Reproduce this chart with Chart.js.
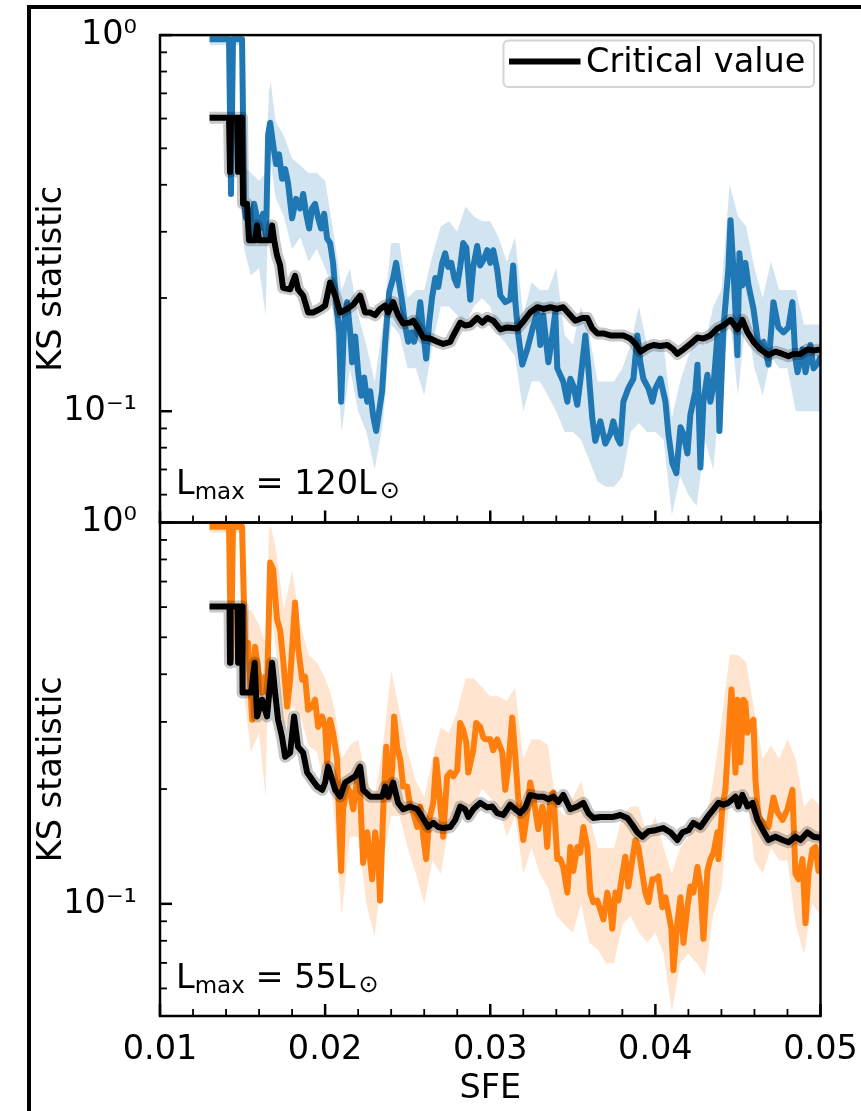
<!DOCTYPE html>
<html>
<head>
<meta charset="utf-8">
<script src="https://cdn.jsdelivr.net/npm/chart.js@4.4.0/dist/chart.umd.min.js"></script>
<style>
  html, body { margin: 0; padding: 0; background: #fff; }
  #page { position: relative; width: 861px; height: 1111px; overflow: hidden; background: #fff; }
  #frame { position: absolute; left: 27px; top: 5px; width: 900px; height: 1200px; border-left: 4px solid #000; border-top: 4px solid #000; }
  canvas { position: absolute; left: 0; top: 0; }
</style>
</head>
<body>
<div id="page">
  <div id="frame"></div>
  <canvas id="bottomChart" width="861" height="1111"></canvas>
  <canvas id="topChart" width="861" height="1111"></canvas>
</div>
<script>
// axis ticks
const xTicks = [0.01, 0.02, 0.03, 0.04, 0.05]
const xMinorTicks = [0.012, 0.014, 0.016, 0.018, 0.022, 0.024, 0.026, 0.028, 0.032, 0.034, 0.036, 0.038, 0.042, 0.044, 0.046, 0.048]
const yTicks = [0.1, 1]
const yTickLabels = ['10⁻¹', '10⁰']
const yMinorTicks = [0.06, 0.07, 0.08, 0.09, 0.2, 0.3, 0.4, 0.5, 0.6, 0.7, 0.8, 0.9]
const panelLmax = ['120', '55']

// top panel, Lmax = 120
const topSfe = [
  0.0130, 0.01418, 0.0143, 0.01442, 0.01497, 0.01509, 0.01521, 0.01533, 0.01552, 0.0157,
  0.01588, 0.01606, 0.01624, 0.01642, 0.01655, 0.01667, 0.01685, 0.01703, 0.01721, 0.01739,
  0.01758, 0.01776, 0.018, 0.01824, 0.01848, 0.01867, 0.01885, 0.01903, 0.01921, 0.01939,
  0.01958, 0.01976, 0.01994, 0.02012, 0.0203, 0.02048, 0.02067, 0.02085, 0.02097, 0.02115,
  0.02133, 0.02152, 0.02164, 0.02182, 0.022, 0.02218, 0.02236, 0.02255, 0.02273, 0.02291,
  0.02309, 0.02327, 0.02345, 0.02364, 0.02388, 0.02412, 0.0243, 0.02448, 0.02467, 0.02485,
  0.02503, 0.02521, 0.02539, 0.02558, 0.02576, 0.02594, 0.02612, 0.0263, 0.02648, 0.02667,
  0.02685, 0.02709, 0.02727, 0.02745, 0.02764, 0.02782, 0.028, 0.02818, 0.02836, 0.02855,
  0.02879, 0.02897, 0.02921, 0.02939, 0.02958, 0.02982, 0.03, 0.03018, 0.03042, 0.03061,
  0.03091, 0.03121, 0.03139, 0.03152, 0.0317, 0.03194, 0.03224, 0.03261, 0.03285, 0.03303,
  0.03321, 0.03352, 0.03376, 0.03394, 0.03406, 0.03442, 0.03467, 0.03485, 0.03503, 0.03527,
  0.03545, 0.03576, 0.03594, 0.03618, 0.03636, 0.03667, 0.03697, 0.03727, 0.03745, 0.0377,
  0.03788, 0.03806, 0.03836, 0.03867, 0.03891, 0.03909, 0.03927, 0.03958, 0.03982, 0.04,
  0.0403, 0.04061, 0.04079, 0.04103, 0.04127, 0.04152, 0.0417, 0.04194, 0.04212, 0.04242,
  0.04255, 0.04273, 0.04291, 0.04315, 0.04333, 0.04352, 0.04376, 0.04388, 0.04412, 0.04442,
  0.04455, 0.04473, 0.04497, 0.04509, 0.04527, 0.04545, 0.04564, 0.04594, 0.04624, 0.04655,
  0.04685, 0.04715, 0.04745, 0.04776, 0.04806, 0.0483, 0.04848, 0.04861, 0.04891, 0.04909,
  0.04939, 0.04958, 0.04988, 0.05
]
const topKs = [
  0.975, 0.975, 0.378, 0.975, 0.975, 0.356, 0.326, 0.346, 0.288, 0.356,
  0.326, 0.306, 0.335, 0.288, 0.544, 0.585, 0.512, 0.454, 0.482, 0.415,
  0.440, 0.402, 0.326, 0.367, 0.346, 0.378, 0.335, 0.306, 0.346, 0.356,
  0.326, 0.306, 0.335, 0.288, 0.280, 0.248, 0.195, 0.162, 0.106, 0.172,
  0.195, 0.162, 0.135, 0.158, 0.127, 0.110, 0.123, 0.106, 0.113, 0.097,
  0.0886, 0.100, 0.113, 0.153, 0.207, 0.226, 0.248, 0.220, 0.195, 0.168,
  0.153, 0.162, 0.153, 0.168, 0.195, 0.162, 0.138, 0.172, 0.201, 0.226,
  0.214, 0.248, 0.263, 0.242, 0.248, 0.226, 0.216, 0.242, 0.280, 0.272,
  0.198, 0.242, 0.275, 0.244, 0.252, 0.268, 0.248, 0.268, 0.238, 0.203,
  0.195, 0.198, 0.244, 0.195, 0.159, 0.133, 0.146, 0.169, 0.183, 0.150,
  0.180, 0.135, 0.159, 0.183, 0.130, 0.120, 0.106, 0.122, 0.117, 0.104,
  0.120, 0.159, 0.130, 0.096, 0.0834, 0.094, 0.0820, 0.0870, 0.094, 0.085,
  0.0820, 0.106, 0.115, 0.122, 0.159, 0.135, 0.122, 0.115, 0.106, 0.115,
  0.122, 0.106, 0.0870, 0.0728, 0.0684, 0.0906, 0.0870, 0.0772, 0.098, 0.113,
  0.133, 0.0709, 0.106, 0.125, 0.106, 0.117, 0.159, 0.0886, 0.166, 0.238,
  0.322, 0.238, 0.141, 0.263, 0.216, 0.248, 0.216, 0.187, 0.150, 0.153,
  0.133, 0.195, 0.167, 0.162, 0.167, 0.195, 0.138, 0.127, 0.146, 0.127,
  0.150, 0.130, 0.135, 0.140
]
const topCritSfe = [
  0.0130, 0.01418, 0.01424, 0.0143, 0.01467, 0.01473, 0.01479, 0.01497, 0.01503, 0.01527,
  0.01539, 0.01576, 0.01588, 0.016, 0.01667, 0.01679, 0.01691, 0.01709, 0.01727, 0.01745,
  0.01788, 0.01818, 0.01836, 0.01867, 0.01897, 0.01927, 0.0197, 0.02, 0.0203, 0.02061,
  0.02091, 0.02133, 0.0217, 0.02212, 0.02242, 0.02273, 0.02303, 0.02333, 0.02364, 0.02382,
  0.02412, 0.02442, 0.02473, 0.02515, 0.02533, 0.02564, 0.02594, 0.02636, 0.02679, 0.02715,
  0.02758, 0.02776, 0.02818, 0.02848, 0.02879, 0.02921, 0.02952, 0.02982, 0.03018, 0.03061,
  0.03103, 0.03164, 0.03194, 0.03242, 0.03285, 0.03321, 0.03364, 0.03406, 0.03442, 0.03485,
  0.03515, 0.03558, 0.03588, 0.03618, 0.03648, 0.03685, 0.03727, 0.0377, 0.03806, 0.03848,
  0.03879, 0.03909, 0.03952, 0.03988, 0.0403, 0.04073, 0.04109, 0.04133, 0.0417, 0.04212,
  0.04255, 0.04291, 0.04333, 0.04376, 0.04412, 0.04455, 0.04497, 0.04527, 0.04558, 0.04594,
  0.04636, 0.04685, 0.04727, 0.0477, 0.04806, 0.04836, 0.04879, 0.04921, 0.04958, 0.05
]
const topCrit = [
  0.603, 0.603, 0.433, 0.603, 0.603, 0.433, 0.603, 0.603, 0.356, 0.356,
  0.285, 0.285, 0.312, 0.285, 0.285, 0.312, 0.285, 0.259, 0.245, 0.213,
  0.211, 0.229, 0.211, 0.203, 0.183, 0.183, 0.187, 0.191, 0.220, 0.203,
  0.183, 0.187, 0.192, 0.203, 0.183, 0.183, 0.180, 0.187, 0.191, 0.183,
  0.195, 0.180, 0.171, 0.172, 0.174, 0.166, 0.157, 0.156, 0.153, 0.151,
  0.153, 0.159, 0.172, 0.169, 0.170, 0.177, 0.172, 0.177, 0.174, 0.165,
  0.167, 0.166, 0.172, 0.183, 0.189, 0.187, 0.189, 0.187, 0.189, 0.180,
  0.174, 0.177, 0.177, 0.166, 0.161, 0.161, 0.159, 0.159, 0.159, 0.156,
  0.151, 0.144, 0.148, 0.150, 0.149, 0.150, 0.146, 0.142, 0.146, 0.151,
  0.157, 0.156, 0.159, 0.166, 0.169, 0.175, 0.165, 0.175, 0.162, 0.153,
  0.146, 0.141, 0.144, 0.142, 0.140, 0.142, 0.142, 0.146, 0.145, 0.146
]

// spread band, shared x for both panels
const bandSfe = [
  0.013, 0.0149, 0.0151, 0.0155, 0.016, 0.0164, 0.0166, 0.0167, 0.017, 0.0175,
  0.018, 0.0185, 0.019, 0.0195, 0.02, 0.0203, 0.0206, 0.021, 0.0215, 0.022,
  0.0225, 0.023, 0.0235, 0.024, 0.0245, 0.025, 0.0255, 0.026, 0.0265, 0.027,
  0.0275, 0.028, 0.0285, 0.029, 0.0295, 0.03, 0.0305, 0.031, 0.0315, 0.032,
  0.0325, 0.033, 0.0335, 0.034, 0.0345, 0.035, 0.0355, 0.036, 0.0365, 0.037,
  0.0375, 0.038, 0.0385, 0.039, 0.0395, 0.04, 0.0405, 0.041, 0.0415, 0.042,
  0.0425, 0.043, 0.0435, 0.044, 0.0445, 0.045, 0.0455, 0.046, 0.0465, 0.047,
  0.0475, 0.048, 0.0485, 0.049, 0.0495, 0.05
]
const topLow = [
  0.94, 0.94, 0.27, 0.23, 0.24, 0.18, 0.42, 0.46, 0.37, 0.33,
  0.27, 0.29, 0.25, 0.27, 0.24, 0.22, 0.16, 0.088, 0.13, 0.10,
  0.088, 0.07, 0.093, 0.17, 0.16, 0.13, 0.13, 0.11, 0.15, 0.19,
  0.19, 0.18, 0.17, 0.19, 0.20, 0.19, 0.16, 0.15, 0.14, 0.10,
  0.12, 0.12, 0.11, 0.10, 0.088, 0.088, 0.084, 0.074, 0.065, 0.063,
  0.063, 0.067, 0.088, 0.093, 0.088, 0.088, 0.084, 0.053, 0.067, 0.06,
  0.056, 0.084, 0.07, 0.12, 0.18, 0.11, 0.18, 0.13, 0.11, 0.14,
  0.13, 0.13, 0.10, 0.10, 0.10, 0.10
]
const topHigh = [
  1.0, 1.0, 0.45, 0.43, 0.41, 0.43, 0.71, 0.75, 0.59, 0.54,
  0.47, 0.45, 0.43, 0.43, 0.41, 0.34, 0.28, 0.21, 0.24, 0.18,
  0.15, 0.12, 0.17, 0.28, 0.28, 0.20, 0.21, 0.21, 0.26, 0.31,
  0.32, 0.30, 0.35, 0.33, 0.32, 0.32, 0.29, 0.25, 0.29, 0.18,
  0.22, 0.21, 0.21, 0.24, 0.16, 0.15, 0.19, 0.16, 0.12, 0.12,
  0.12, 0.13, 0.15, 0.19, 0.15, 0.15, 0.15, 0.096, 0.12, 0.14,
  0.16, 0.15, 0.19, 0.21, 0.40, 0.33, 0.31, 0.24, 0.20, 0.25,
  0.21, 0.21, 0.21, 0.17, 0.17, 0.17
]

// bottom panel, Lmax = 55
const botSfe = [
  0.0130, 0.01418, 0.0143, 0.01442, 0.01497, 0.01515, 0.01533, 0.01558, 0.01576, 0.01594,
  0.01618, 0.01636, 0.01648, 0.01667, 0.01685, 0.01709, 0.01727, 0.01745, 0.0177, 0.01788,
  0.01818, 0.01836, 0.01861, 0.01879, 0.01897, 0.01921, 0.01939, 0.01958, 0.01982, 0.02,
  0.02012, 0.0203, 0.02048, 0.02073, 0.02085, 0.02097, 0.02109, 0.02133, 0.02152, 0.0217,
  0.02194, 0.02212, 0.0223, 0.02255, 0.02285, 0.02303, 0.02321, 0.02333, 0.02352, 0.0237,
  0.02388, 0.02406, 0.02418, 0.02436, 0.02455, 0.02473, 0.02497, 0.02515, 0.02533, 0.02558,
  0.02576, 0.02594, 0.02612, 0.0263, 0.02655, 0.02673, 0.02691, 0.02715, 0.02739, 0.02758,
  0.02776, 0.028, 0.02818, 0.02836, 0.02855, 0.02867, 0.02897, 0.02915, 0.02939, 0.02958,
  0.0297, 0.03, 0.03018, 0.03042, 0.03073, 0.03091, 0.03109, 0.03133, 0.03152, 0.0317,
  0.032, 0.03224, 0.03242, 0.03261, 0.03291, 0.03315, 0.03333, 0.03345, 0.03364, 0.03382,
  0.03406, 0.03424, 0.03442, 0.03467, 0.03485, 0.03503, 0.03527, 0.03545, 0.03564, 0.03588,
  0.03606, 0.03624, 0.03648, 0.03667, 0.03685, 0.03709, 0.03727, 0.03739, 0.03758, 0.03776,
  0.038, 0.03818, 0.03836, 0.03861, 0.03879, 0.03897, 0.03921, 0.03939, 0.03958, 0.03982,
  0.04, 0.04018, 0.04042, 0.04061, 0.04079, 0.04097, 0.04109, 0.04133, 0.04152, 0.0417,
  0.04194, 0.04212, 0.0423, 0.04255, 0.04273, 0.04291, 0.04315, 0.04333, 0.04352, 0.04376,
  0.04382, 0.04406, 0.04424, 0.04442, 0.04461, 0.04473, 0.04485, 0.04497, 0.04515, 0.04533,
  0.04545, 0.04558, 0.04576, 0.04594, 0.04606, 0.04624, 0.04655, 0.04685, 0.04715, 0.04739,
  0.0477, 0.048, 0.0483, 0.04848, 0.04867, 0.04891, 0.04909, 0.04927, 0.04952, 0.0497,
  0.04988, 0.05
]
const botKs = [
  0.975, 0.975, 0.44, 0.975, 0.975, 0.464, 0.484, 0.304, 0.472, 0.411,
  0.358, 0.394, 0.358, 0.785, 0.753, 0.556, 0.524, 0.440, 0.329, 0.387,
  0.617, 0.472, 0.387, 0.394, 0.323, 0.329, 0.343, 0.291, 0.310, 0.291,
  0.235, 0.304, 0.281, 0.239, 0.166, 0.122, 0.177, 0.203, 0.196, 0.177,
  0.212, 0.196, 0.128, 0.154, 0.116, 0.154, 0.133, 0.102, 0.177, 0.258,
  0.190, 0.224, 0.310, 0.258, 0.239, 0.203, 0.203, 0.180, 0.174, 0.159,
  0.180, 0.150, 0.131, 0.166, 0.184, 0.239, 0.196, 0.150, 0.216, 0.221,
  0.216, 0.224, 0.298, 0.286, 0.265, 0.221, 0.253, 0.298, 0.291, 0.273,
  0.270, 0.270, 0.253, 0.270, 0.249, 0.199, 0.229, 0.308, 0.243, 0.188,
  0.147, 0.174, 0.208, 0.190, 0.157, 0.180, 0.166, 0.141, 0.190, 0.196,
  0.131, 0.131, 0.125, 0.107, 0.141, 0.122, 0.141, 0.136, 0.159, 0.141,
  0.107, 0.101, 0.102, 0.0964, 0.091, 0.107, 0.098, 0.086, 0.107, 0.102,
  0.120, 0.133, 0.111, 0.131, 0.147, 0.141, 0.120, 0.107, 0.101, 0.116,
  0.116, 0.118, 0.098, 0.104, 0.095, 0.086, 0.067, 0.089, 0.104, 0.079,
  0.098, 0.111, 0.107, 0.125, 0.111, 0.081, 0.122, 0.131, 0.136, 0.154,
  0.131, 0.180, 0.199, 0.270, 0.365, 0.298, 0.221, 0.343, 0.235, 0.343,
  0.337, 0.281, 0.298, 0.304, 0.212, 0.169, 0.163, 0.159, 0.190, 0.174,
  0.166, 0.177, 0.199, 0.120, 0.116, 0.131, 0.089, 0.120, 0.139, 0.141,
  0.122, 0.125
]
const botCritSfe = [
  0.0130, 0.01421, 0.01424, 0.01427, 0.0147, 0.01473, 0.01476, 0.01497, 0.015, 0.01552,
  0.01573, 0.01588, 0.01618, 0.01648, 0.01679, 0.01697, 0.01715, 0.01739, 0.01758, 0.01788,
  0.01812, 0.01836, 0.01867, 0.01891, 0.01921, 0.01952, 0.01982, 0.02, 0.02018, 0.02042,
  0.02061, 0.02091, 0.02121, 0.02152, 0.02182, 0.02212, 0.0223, 0.02273, 0.02315, 0.02345,
  0.02364, 0.02382, 0.02412, 0.02442, 0.02473, 0.02515, 0.02558, 0.02588, 0.02624, 0.02655,
  0.02685, 0.02715, 0.02758, 0.02788, 0.02818, 0.02848, 0.02867, 0.02897, 0.02939, 0.02982,
  0.03012, 0.03042, 0.03079, 0.03121, 0.03152, 0.03182, 0.03212, 0.03242, 0.03285, 0.03321,
  0.03352, 0.03382, 0.03412, 0.03442, 0.03485, 0.03527, 0.03564, 0.03594, 0.03624, 0.03667,
  0.03709, 0.03745, 0.03788, 0.0383, 0.03861, 0.03891, 0.03921, 0.03958, 0.04, 0.04048,
  0.04091, 0.04133, 0.04164, 0.042, 0.0423, 0.04273, 0.04315, 0.04352, 0.04382, 0.04412,
  0.04442, 0.04485, 0.04503, 0.04527, 0.04558, 0.04588, 0.04618, 0.04655, 0.04685, 0.04727,
  0.0477, 0.04806, 0.04848, 0.04879, 0.04921, 0.04958, 0.05
]
const botCrit = [
  0.602, 0.602, 0.429, 0.602, 0.602, 0.429, 0.602, 0.602, 0.358, 0.358,
  0.429, 0.310, 0.343, 0.310, 0.429, 0.358, 0.304, 0.274, 0.243, 0.249,
  0.310, 0.258, 0.249, 0.221, 0.212, 0.203, 0.199, 0.208, 0.229, 0.212,
  0.199, 0.191, 0.208, 0.212, 0.216, 0.229, 0.199, 0.191, 0.191, 0.191,
  0.203, 0.191, 0.208, 0.184, 0.177, 0.180, 0.177, 0.169, 0.159, 0.163,
  0.159, 0.158, 0.159, 0.166, 0.180, 0.177, 0.169, 0.177, 0.184, 0.179,
  0.180, 0.173, 0.171, 0.182, 0.177, 0.173, 0.179, 0.193, 0.191, 0.191,
  0.188, 0.191, 0.185, 0.193, 0.177, 0.180, 0.184, 0.173, 0.168, 0.169,
  0.169, 0.169, 0.171, 0.168, 0.161, 0.154, 0.150, 0.155, 0.156, 0.158,
  0.154, 0.147, 0.154, 0.156, 0.163, 0.159, 0.169, 0.177, 0.184, 0.182,
  0.184, 0.191, 0.180, 0.193, 0.180, 0.184, 0.166, 0.155, 0.147, 0.150,
  0.147, 0.145, 0.150, 0.147, 0.154, 0.150, 0.149
]
const botLow = [
  0.94, 0.94, 0.35, 0.25, 0.28, 0.19, 0.56, 0.60, 0.47, 0.28,
  0.33, 0.31, 0.26, 0.25, 0.20, 0.22, 0.16, 0.093, 0.15, 0.15,
  0.10, 0.082, 0.13, 0.17, 0.17, 0.14, 0.12, 0.10, 0.13, 0.12,
  0.16, 0.17, 0.18, 0.18, 0.20, 0.19, 0.18, 0.15, 0.17, 0.12,
  0.14, 0.12, 0.11, 0.093, 0.088, 0.084, 0.10, 0.079, 0.076, 0.07,
  0.07, 0.088, 0.093, 0.084, 0.079, 0.084, 0.074, 0.052, 0.07, 0.074,
  0.07, 0.065, 0.093, 0.11, 0.19, 0.18, 0.20, 0.13, 0.12, 0.14,
  0.13, 0.13, 0.088, 0.074, 0.10, 0.093
]
const botHigh = [
  1.0, 1.0, 0.59, 0.59, 0.54, 0.48, 0.96, 0.98, 0.86, 0.59,
  0.75, 0.54, 0.45, 0.43, 0.39, 0.36, 0.32, 0.24, 0.26, 0.27,
  0.21, 0.19, 0.26, 0.41, 0.32, 0.25, 0.21, 0.19, 0.24, 0.29,
  0.28, 0.32, 0.39, 0.39, 0.37, 0.35, 0.35, 0.34, 0.37, 0.24,
  0.27, 0.27, 0.26, 0.18, 0.17, 0.19, 0.21, 0.17, 0.14, 0.14,
  0.14, 0.17, 0.18, 0.18, 0.15, 0.17, 0.14, 0.12, 0.14, 0.15,
  0.17, 0.16, 0.21, 0.30, 0.45, 0.45, 0.43, 0.32, 0.24, 0.26,
  0.24, 0.27, 0.24, 0.18, 0.19, 0.18
]

Chart.defaults.font.family = "'DejaVu Sans', sans-serif"
Chart.defaults.font.size = 33.5
Chart.defaults.color = '#000'

const pts = (xs, ys) => xs.map((x, i) => ({x: x, y: ys[i]}))

const axesDecor = {
  id: 'axesDecor',
  afterDraw(chart, args, opts) {
    const {ctx, chartArea: a, scales} = chart
    const line = (x1, y1, x2, y2, w) => {
      ctx.lineWidth = w
      ctx.beginPath(); ctx.moveTo(x1, y1); ctx.lineTo(x2, y2); ctx.stroke()
    }
    ctx.save()
    ctx.strokeStyle = '#000'
    xTicks.forEach(v => { const px = scales.x.getPixelForValue(v); line(px, a.bottom, px, a.bottom - 12, 2.5) })
    xMinorTicks.forEach(v => { const px = scales.x.getPixelForValue(v); line(px, a.bottom, px, a.bottom - 7, 1.8) })
    yTicks.forEach(v => { const py = scales.y.getPixelForValue(v); line(a.left, py, a.left + 12, py, 2.5) })
    yMinorTicks.forEach(v => {
      if (v < scales.y.min) return
      const py = scales.y.getPixelForValue(v); line(a.left, py, a.left + 7, py, 1.8)
    })
    ctx.lineWidth = 2.5
    ctx.strokeRect(a.left, a.top, a.right - a.left, a.bottom - a.top)

    // L_max annotation
    let x = a.left + 16
    const y = a.bottom - 28.5
    ctx.fillStyle = '#000'
    ctx.textAlign = 'left'
    ctx.textBaseline = 'alphabetic'
    ctx.font = "33.5px 'DejaVu Sans'"
    ctx.fillText('L', x, y); x += ctx.measureText('L').width
    ctx.font = "23px 'DejaVu Sans'"
    ctx.fillText('max', x, y + 5); x += ctx.measureText('max').width
    ctx.font = "33.5px 'DejaVu Sans'"
    const mid = ' = ' + opts.lmax + 'L'
    ctx.fillText(mid, x, y); x += ctx.measureText(mid).width
    ctx.font = "24px 'DejaVu Sans'"
    ctx.fillText('⊙', x + 3, y + 4)

    // legend box
    if (opts.legend) {
      const bx = a.right - 317, by = a.top + 5.5, bw = 310.5, bh = 46.5
      ctx.fillStyle = 'rgba(255,255,255,0.8)'
      ctx.strokeStyle = '#d4d4d4'
      ctx.lineWidth = 2
      ctx.beginPath(); ctx.roundRect(bx, by, bw, bh, 5); ctx.fill(); ctx.stroke()
      ctx.strokeStyle = '#000'
      line(bx + 5.5, by + 21, bx + 77, by + 21, 6)
      ctx.fillStyle = '#000'
      ctx.font = "33.5px 'DejaVu Sans'"
      ctx.fillText(chart.data.datasets[0].label, bx + 82.5, by + 31)
    }
    ctx.restore()
  }
}

function makePanel(id, p) {
  const datasets = [
    {label: 'Critical value', data: pts(p.critSfe, p.crit), borderColor: '#000', borderWidth: 6, order: 0},
    {label: 'critical spread', data: pts(p.critSfe, p.crit), borderColor: 'rgba(0,0,0,0.22)', borderWidth: 12, order: 1},
    {label: 'KS', data: pts(p.sfe, p.ks), borderColor: p.color, borderWidth: 6, order: 2},
    {label: 'low', data: pts(bandSfe, p.low), borderColor: 'transparent', borderWidth: 0, order: 4},
    {label: 'high', data: pts(bandSfe, p.high), borderColor: 'transparent', borderWidth: 0,
     backgroundColor: p.band, fill: 3, order: 3}
  ]
  datasets.forEach(d => { d.pointRadius = 0; d.borderJoinStyle = 'round'; d.tension = 0 })

  return new Chart(document.getElementById(id), {
    type: 'line',
    data: {datasets: datasets},
    options: {
      responsive: false,
      animation: false,
      events: [],
      layout: {padding: p.padding},
      plugins: {legend: {display: false}, tooltip: {enabled: false},
                axesDecor: {lmax: p.lmax, legend: p.legend}},
      scales: {
        x: {
          type: 'linear', min: 0.01, max: 0.05,
          grid: {display: false}, border: {display: false},
          ticks: {display: p.showX, padding: 6, callback: v => v.toFixed(2)},
          title: {display: p.showX, text: 'SFE', padding: {top: 0, bottom: 2}},
          afterBuildTicks: s => { s.ticks = xTicks.map(v => ({value: v})) },
          afterFit: s => { s.height = p.xHeight; s.paddingLeft = 0; s.paddingRight = 0 }
        },
        y: {
          type: 'logarithmic', min: p.ymin, max: 1,
          grid: {display: false}, border: {display: false},
          ticks: {padding: 15, callback: v => yTickLabels[yTicks.indexOf(v)]},
          title: {display: true, text: 'KS statistic', padding: {top: 32, bottom: 0}},
          afterBuildTicks: s => { s.ticks = yTicks.map(v => ({value: v})) },
          afterFit: s => { s.width = 160 }
        }
      }
    },
    plugins: [axesDecor]
  })
}

makePanel('topChart', {
  sfe: topSfe, ks: topKs, critSfe: topCritSfe, crit: topCrit, low: topLow, high: topHigh,
  color: '#1f77b4', band: 'rgba(31,119,180,0.2)', lmax: panelLmax[0], legend: true,
  padding: {top: 29.5, right: 40.5, bottom: 588.5, left: 0}, xHeight: 0, showX: false, ymin: 0.0506
})

makePanel('bottomChart', {
  sfe: botSfe, ks: botKs, critSfe: botCritSfe, crit: botCrit, low: botLow, high: botHigh,
  color: '#ff7f0e', band: 'rgba(255,127,14,0.2)', lmax: panelLmax[1], legend: false,
  padding: {top: 522.5, right: 40.5, bottom: 0, left: 0}, xHeight: 95, showX: true, ymin: 0.0508
})
</script>
</body>
</html>
